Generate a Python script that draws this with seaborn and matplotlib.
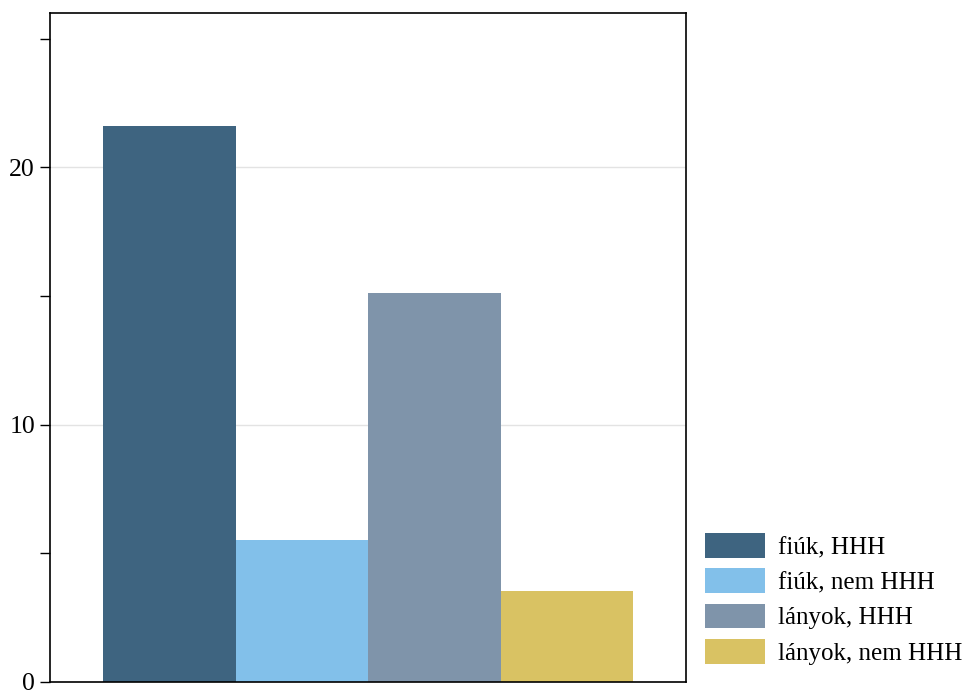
import matplotlib
matplotlib.use('Agg')
import matplotlib.pyplot as plt
from matplotlib.ticker import MultipleLocator
import seaborn as sns
import pandas as pd

# adatok
groups = ['fiúk, HHH', 'fiúk, nem HHH', 'lányok, HHH', 'lányok, nem HHH']
values = [21.6, 5.5, 15.1, 3.55]
colors = ['#3e6480', '#82c0ea', '#7f94aa', '#d9c263']

sns.set_style('white')
plt.rcParams['font.family'] = ['Liberation Serif', 'DejaVu Serif']
plt.rcParams['text.color'] = 'black'
plt.rcParams['ytick.color'] = 'black'

df = pd.DataFrame({'group': groups, 'value': values})

fig = plt.figure(figsize=(9.68, 6.93), dpi=100)
ax = fig.add_axes([0.0517, 0.0159, 0.657, 0.9653])
sns.barplot(data=df, x='group', y='value', hue='group', palette=colors,
            width=1, saturation=1, linewidth=0, legend=True, ax=ax)

ax.set_xlim(-0.9, 3.9)
ax.set_ylim(0, 26)
ax.yaxis.set_major_locator(MultipleLocator(10))
ax.yaxis.set_minor_locator(MultipleLocator(5))
ax.tick_params(axis='y', which='both', direction='out', length=7.2, width=1.0,
               left=True, labelsize=18.5, color='black', labelcolor='black', pad=3.6)
ax.tick_params(axis='x', bottom=False, labelbottom=False)
ax.set_xlabel('')
ax.set_ylabel('')
ax.grid(axis='y', which='major', color='#e3e3e3', linewidth=1)
ax.set_axisbelow(True)
for s in ax.spines.values():
    s.set_color('black')
    s.set_linewidth(1.2)

sns.move_legend(ax, loc='lower left', bbox_to_anchor=(1.0141, 0.011), frameon=False,
                title=None, fontsize=18, handlelength=2.4, handleheight=1.15,
                labelspacing=0.37, handletextpad=0.52, borderaxespad=0)

fig.savefig('out.png', dpi=100)
